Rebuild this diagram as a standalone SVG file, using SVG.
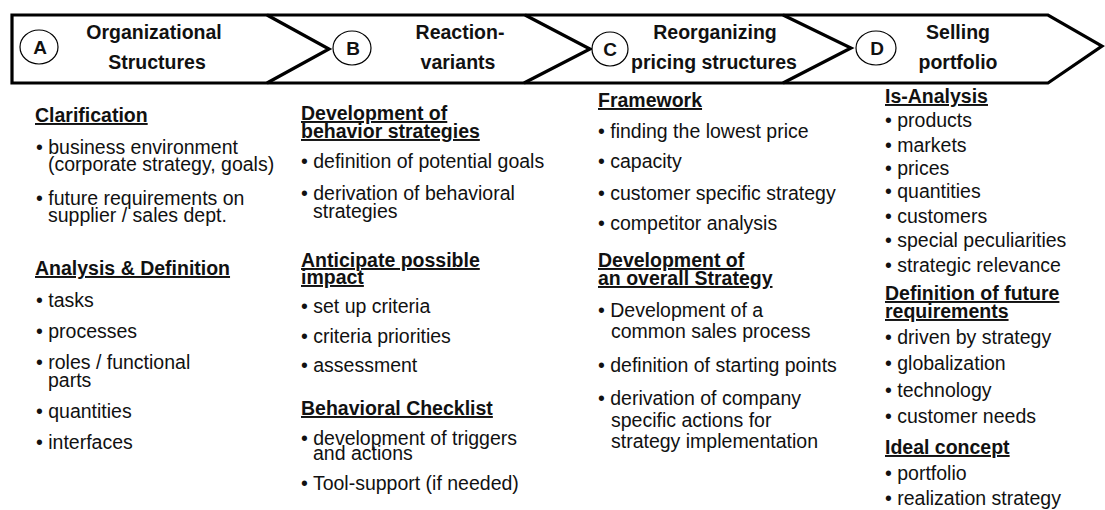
<svg xmlns="http://www.w3.org/2000/svg" width="1105" height="510" viewBox="0 0 1105 510">
<style>
text{font-family:"Liberation Sans",Arial,sans-serif;fill:#111;font-size:19.5px}
.h{font-weight:bold;text-decoration:underline}
.t{font-weight:bold;text-anchor:middle}
.c{font-weight:bold;text-anchor:middle;font-size:19px}
.o{fill:#fff;stroke:#000;stroke-width:1.2}
.b{fill:none;stroke:#000;stroke-width:3.2;stroke-linejoin:miter}
</style>
<rect width="1105" height="510" fill="#fff"/>
<g id="connectors">
<polygon class="b" points="12,15 1048,15 1102,46 1048,83 12,83"/>
<polyline class="b" points="267,15 329,49 267,83"/>
<polyline class="b" points="525,15 590,49 524,83"/>
<polyline class="b" points="783,15 851,48 783,83"/>
</g>
<g id="nodeA">
<ellipse class="o" cx="39" cy="47" rx="19" ry="17"/>
<text class="c" x="40" y="54">A</text>
<text class="t" x="154" y="39">Organizational</text>
<text class="t" x="157" y="69">Structures</text>
</g>
<g id="nodeB">
<ellipse class="o" cx="352" cy="48" rx="19" ry="17"/>
<text class="c" x="353" y="55">B</text>
<text class="t" x="460" y="39">Reaction-</text>
<text class="t" x="458" y="69">variants</text>
</g>
<g id="nodeC">
<ellipse class="o" cx="610" cy="49" rx="18" ry="17"/>
<text class="c" x="610" y="56">C</text>
<text class="t" x="715" y="39">Reorganizing</text>
<text class="t" x="714" y="69">pricing structures</text>
</g>
<g id="nodeD">
<ellipse class="o" cx="876" cy="48" rx="20" ry="17"/>
<text class="c" x="877" y="55">D</text>
<text class="t" x="958" y="39">Selling</text>
<text class="t" x="958" y="69">portfolio</text>
</g>
<g id="colA">
<text class="h" x="35" y="122">Clarification</text>
<text x="36" y="154">• business environment</text>
<text x="48" y="171">(corporate strategy, goals)</text>
<text x="36" y="205">• future requirements on</text>
<text x="48" y="222">supplier / sales dept.</text>
<text class="h" x="35" y="275">Analysis &amp; Definition</text>
<text x="36" y="307">• tasks</text>
<text x="36" y="338">• processes</text>
<text x="36" y="369">• roles / functional</text>
<text x="48" y="387">parts</text>
<text x="36" y="418">• quantities</text>
<text x="36" y="449">• interfaces</text>
</g>
<g id="colB">
<text class="h" x="301" y="120">Development of</text>
<text class="h" x="301" y="138">behavior strategies</text>
<text x="301" y="168">• definition of potential goals</text>
<text x="301" y="200">• derivation of behavioral</text>
<text x="313" y="218">strategies</text>
<text class="h" x="301" y="267">Anticipate possible</text>
<text class="h" x="301" y="284">impact</text>
<text x="301" y="313">• set up criteria</text>
<text x="301" y="343">• criteria priorities</text>
<text x="301" y="372">• assessment</text>
<text class="h" x="301" y="415">Behavioral Checklist</text>
<text x="301" y="445">• development of triggers</text>
<text x="313" y="460">and actions</text>
<text x="301" y="490">• Tool-support (if needed)</text>
</g>
<g id="colC">
<text class="h" x="598" y="107">Framework</text>
<text x="598" y="138">• finding the lowest price</text>
<text x="598" y="168">• capacity</text>
<text x="598" y="200">• customer specific strategy</text>
<text x="598" y="230">• competitor analysis</text>
<text class="h" x="598" y="267">Development of</text>
<text class="h" x="598" y="285">an overall Strategy</text>
<text x="598" y="317">• Development of a</text>
<text x="611" y="338">common sales process</text>
<text x="598" y="372">• definition of starting points</text>
<text x="598" y="405">• derivation of company</text>
<text x="611" y="427">specific actions for</text>
<text x="611" y="448">strategy implementation</text>
</g>
<g id="colD">
<text class="h" x="885" y="103">Is-Analysis</text>
<text x="885" y="127">• products</text>
<text x="885" y="152">• markets</text>
<text x="885" y="175">• prices</text>
<text x="885" y="198">• quantities</text>
<text x="885" y="223">• customers</text>
<text x="885" y="247">• special peculiarities</text>
<text x="885" y="272">• strategic relevance</text>
<text class="h" x="885" y="300">Definition of future</text>
<text class="h" x="885" y="318">requirements</text>
<text x="885" y="344">• driven by strategy</text>
<text x="885" y="370">• globalization</text>
<text x="885" y="397">• technology</text>
<text x="885" y="423">• customer needs</text>
<text class="h" x="885" y="454">Ideal concept</text>
<text x="885" y="480">• portfolio</text>
<text x="885" y="505">• realization strategy</text>
</g>
</svg>
